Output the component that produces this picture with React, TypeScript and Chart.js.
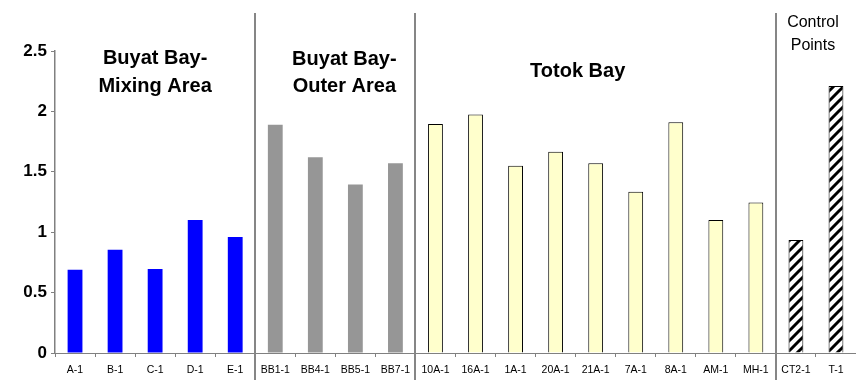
import React, { useEffect, useRef } from "react";
import { Chart, registerables } from "chart.js";

Chart.register(...registerables);

const categories = [
  "A-1", "B-1", "C-1", "D-1", "E-1",
  "BB1-1", "BB4-1", "BB5-1", "BB7-1",
  "10A-1", "16A-1", "1A-1", "20A-1", "21A-1", "7A-1", "8A-1", "AM-1", "MH-1",
  "CT2-1", "T-1",
];
const values = [
  0.69, 0.855, 0.695, 1.10, 0.96,
  1.89, 1.62, 1.395, 1.57,
  1.895, 1.975, 1.55, 1.665, 1.57, 1.335, 1.91, 1.10, 1.245,
  0.935, 2.21,
];
const groupNames = [
  ["Buyat Bay-", "Mixing Area"],
  ["Buyat Bay-", "Outer Area"],
  ["Totok Bay"],
  ["Control", "Points"],
];
const groupSizes = [5, 4, 9, 2];
const yTicks = [0, 0.5, 1, 1.5, 2, 2.5];

const FONT = "'Liberation Sans', Arial, sans-serif";

function makeHatch(): CanvasPattern | string {
  const s = 10;
  const c = document.createElement("canvas");
  c.width = s;
  c.height = s;
  const g = c.getContext("2d");
  if (!g) return "#fff";
  g.fillStyle = "#ffffff";
  g.fillRect(0, 0, s, s);
  g.strokeStyle = "#000000";
  g.lineWidth = 3;
  g.beginPath();
  g.moveTo(-1, s + 1); g.lineTo(s + 1, -1);
  g.moveTo(-3, 3); g.lineTo(3, -3);
  g.moveTo(s - 3, s + 3); g.lineTo(s + 3, s - 3);
  g.stroke();
  const p = g.createPattern(c, "repeat");
  return p || "#fff";
}

export default function App() {
  const ref = useRef<HTMLCanvasElement | null>(null);

  useEffect(() => {
    document.body.style.margin = "0";
    const canvas = ref.current;
    if (!canvas) return;
    const hatch = makeHatch();

    const groupStyles = [
      { bg: "#0000ff", border: "#0000ff", bw: 0 },
      { bg: "#969696", border: "#969696", bw: 0 },
      { bg: "#ffffcc", border: "#000000", bw: 1 },
      { bg: hatch, border: "#000000", bw: 1 },
    ];
    const groupOf: number[] = [];
    groupSizes.forEach((n, gi) => {
      for (let i = 0; i < n; i++) groupOf.push(gi);
    });

    const labelStyle = [
      { dx: 0, bold: true, size: 20, base: [64, 91.5] },
      { dx: 9, bold: true, size: 20, base: [64.5, 91.5] },
      { dx: -18, bold: true, size: 20, base: [77] },
      { dx: -3, bold: false, size: 16, base: [27, 49.5] },
    ];

    const overlay = {
      id: "groupOverlay",
      afterDraw(chart: any) {
        const ctx = chart.ctx;
        const xs = chart.scales.x;
        ctx.save();
        let idx = 0;
        const bounds: number[] = [];
        groupSizes.forEach((n) => {
          const start = idx;
          const end = idx + n - 1;
          bounds.push((xs.getPixelForValue(start) + xs.getPixelForValue(end)) / 2);
          idx += n;
          if (idx < categories.length) {
            const x = Math.round((xs.getPixelForValue(idx - 1) + xs.getPixelForValue(idx)) / 2);
            ctx.strokeStyle = "#868686";
            ctx.lineWidth = 2;
            ctx.beginPath();
            ctx.moveTo(x, 13);
            ctx.lineTo(x, 380);
            ctx.stroke();
          }
        });
        ctx.fillStyle = "#000";
        ctx.textAlign = "center";
        ctx.textBaseline = "alphabetic";
        groupNames.forEach((lines, gi) => {
          const st = labelStyle[gi];
          ctx.font = `${st.bold ? "bold " : ""}${st.size}px ${FONT}`;
          lines.forEach((t, li) => {
            ctx.fillText(t, bounds[gi] + st.dx, st.base[li]);
          });
        });
        ctx.restore();
      },
    };

    const chart = new Chart(canvas, {
      type: "bar",
      data: {
        labels: categories,
        datasets: [
          {
            data: values,
            backgroundColor: groupOf.map((g) => groupStyles[g].bg) as any,
            borderColor: groupOf.map((g) => groupStyles[g].border),
            borderWidth: groupOf.map((g) => groupStyles[g].bw),
            borderSkipped: "bottom",
            barPercentage: 0.37,
            categoryPercentage: 1,
          },
        ],
      },
      options: {
        responsive: false,
        animation: false,
        events: [],
        layout: { padding: { top: 51, left: 0, right: 0, bottom: 0 } },
        plugins: { legend: { display: false }, tooltip: { enabled: false } },
        scales: {
          x: {
            offset: true,
            grid: {
              offset: true,
              drawOnChartArea: false,
              drawTicks: true,
              tickLength: 4,
              color: "#808080",
            },
            border: { display: true, color: "#808080", width: 1 },
            ticks: {
              autoSkip: false,
              maxRotation: 0,
              minRotation: 0,
              color: "#000",
              padding: 7,
              font: { family: FONT, size: 10.5 },
            },
            afterFit(scale: any) {
              scale.height = 27;
            },
          },
          y: {
            min: 0,
            max: 2.5,
            afterBuildTicks(scale: any) {
              scale.ticks = yTicks.map((v) => ({ value: v }));
            },
            grid: {
              drawOnChartArea: false,
              drawTicks: true,
              tickLength: 4,
              color: "#808080",
            },
            border: { display: true, color: "#808080", width: 1.5 },
            ticks: {
              color: "#000",
              padding: 4,
              font: { family: FONT, size: 17, weight: "bold" },
              callback: (v: any) => String(Number(v)),
            },
            afterFit(scale: any) {
              scale.width = 55;
            },
          },
        },
      },
      plugins: [overlay],
    } as any);

    return () => chart.destroy();
  }, []);

  return (
    <div style={{ width: 856, height: 380 }}>
      <canvas ref={ref} width={856} height={380} style={{ display: "block" }} />
    </div>
  );
}
